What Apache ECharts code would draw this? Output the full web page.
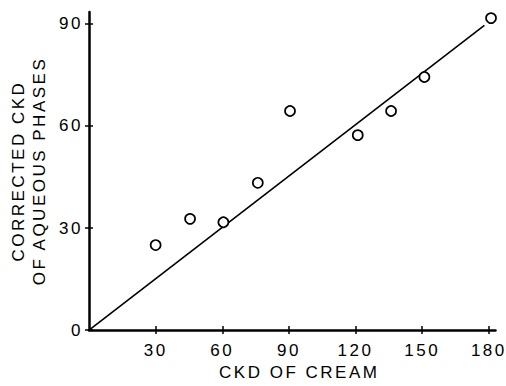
<!DOCTYPE html>
<html>
<head>
<meta charset="utf-8">
<script src="https://cdn.jsdelivr.net/npm/echarts@6/dist/echarts.min.js"></script>
<style>
  html, body { margin: 0; padding: 0; background: #fff; }
  #chart { width: 506px; height: 386px; }
  #chart text { letter-spacing: 2.5px; }
</style>
</head>
<body>
<div id="chart"></div>
<script>
// Data
const creamCkd   = [30, 45.5, 60.5, 76, 90.5, 121, 136, 151, 181];
const aqueousCkd = [25, 32.7, 31.7, 43.3, 64.4, 57.3, 64.4, 74.4, 91.7];
const fitLineX   = [0, 178];
const fitLineY   = [0, 89.6];
const xTickValues = [30, 60, 90, 120, 150, 180];
const yTickValues = [0, 30, 60, 90];
const xTitle = 'CKD OF CREAM';
const yTitle = 'CORRECTED CKD\nOF AQUEOUS PHASES';

const FONT = 'Liberation Sans, Arial, Helvetica, sans-serif';

const points = creamCkd.map((x, i) => [x, aqueousCkd[i]]);
const fitLine = fitLineX.map((x, i) => [x, fitLineY[i]]);

const chart = echarts.init(document.getElementById('chart'), null, { renderer: 'svg' });

const baseX = { type: 'value', min: 0, max: 183, gridIndex: 0, position: 'bottom', splitLine: { show: false } };
const baseY = { type: 'value', min: 0, max: 93.5, gridIndex: 0, position: 'left', splitLine: { show: false } };

chart.setOption({
  animation: false,
  backgroundColor: '#fff',
  grid: { left: 89, right: 10, top: 12, bottom: 53, containLabel: false },
  xAxis: [
    Object.assign({}, baseX, {
      axisLine: { show: true, lineStyle: { color: '#000', width: 2.5 } },
      axisTick: { show: true, length: 4, customValues: xTickValues, lineStyle: { color: '#000', width: 1.5 } },
      axisLabel: { show: true, customValues: xTickValues, margin: 12, color: '#000', fontFamily: FONT, fontSize: 17 },
      name: xTitle,
      nameLocation: 'middle',
      nameGap: 33,
      nameTextStyle: { color: '#000', fontFamily: FONT, fontSize: 17, padding: [0, 0, 0, 14] }
    }),
    Object.assign({}, baseX, {
      axisLine: { show: false },
      axisTick: { show: true, inside: true, length: 4, customValues: xTickValues, lineStyle: { color: '#000', width: 1.5 } },
      axisLabel: { show: false }
    })
  ],
  yAxis: [
    Object.assign({}, baseY, {
      axisLine: { show: true, lineStyle: { color: '#000', width: 2.5 } },
      axisTick: { show: true, length: 4, customValues: yTickValues, lineStyle: { color: '#000', width: 1.5 } },
      axisLabel: { show: true, customValues: yTickValues, margin: 6, color: '#000', fontFamily: FONT, fontSize: 17 },
      name: yTitle,
      nameLocation: 'middle',
      nameGap: 39,
      nameTextStyle: { color: '#000', fontFamily: FONT, fontSize: 17, lineHeight: 21, align: 'center' }
    }),
    Object.assign({}, baseY, {
      axisLine: { show: false },
      axisTick: { show: true, inside: true, length: 4, customValues: yTickValues, lineStyle: { color: '#000', width: 1.5 } },
      axisLabel: { show: false }
    })
  ],
  series: [
    {
      type: 'line',
      xAxisIndex: 0, yAxisIndex: 0,
      data: fitLine,
      symbol: 'none',
      lineStyle: { color: '#000', width: 1.6 },
      z: 1
    },
    {
      type: 'scatter',
      xAxisIndex: 0, yAxisIndex: 0,
      data: points,
      symbol: 'circle',
      symbolSize: 10,
      itemStyle: { color: '#fff', borderColor: '#000', borderWidth: 1.7, opacity: 1 },
      z: 3
    }
  ]
});
</script>
</body>
</html>
